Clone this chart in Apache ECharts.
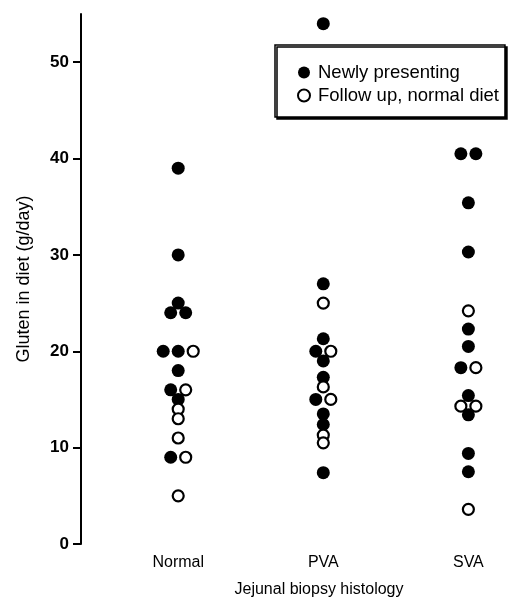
<!DOCTYPE html>
<html>
<head>
<meta charset="utf-8">
<script src="https://cdn.jsdelivr.net/npm/echarts@6/dist/echarts.min.js"></script>
<style>
  html, body { margin: 0; background: #ffffff; }
  #chart { width: 509px; height: 600px; }
</style>
</head>
<body>
<div id="chart"></div>
<script>
// categories on the x axis
const categories = ['Normal', 'PVA', 'SVA'];
const yTicks = [0, 10, 20, 30, 40, 50];

// newly presenting (filled dots), g/day
const newNormal = [39, 30, 25, 24, 24, 20, 20, 18, 16, 15, 9];
const newPVA = [54, 27, 21.3, 20, 19, 17.3, 15, 13.5, 12.4, 7.4];
const newSVA = [40.5, 40.5, 35.4, 30.3, 22.3, 20.5, 18.3, 15.4, 13.4, 9.4, 7.5];

// follow up, normal diet (open dots), g/day
const fuNormal = [20, 16, 14, 13, 11, 9, 5];
const fuPVA = [25, 20, 16.3, 15, 11.3, 10.5];
const fuSVA = [24.2, 18.3, 14.3, 14.3, 3.6];

const newData = [newNormal, newPVA, newSVA];
const fuData = [fuNormal, fuPVA, fuSVA];

// dots with the same value in a column are put side by side
const DODGE = 15;
function buildPoints() {
  const outNew = [], outFu = [];
  categories.forEach((c, ci) => {
    const groups = {};
    newData[ci].forEach(v => {
      const k = v.toFixed(1);
      (groups[k] = groups[k] || []).push({ v: v, out: outNew });
    });
    fuData[ci].forEach(v => {
      const k = v.toFixed(1);
      (groups[k] = groups[k] || []).push({ v: v, out: outFu });
    });
    Object.keys(groups).forEach(k => {
      const g = groups[k];
      g.forEach((p, i) => {
        const dx = (i - (g.length - 1) / 2) * DODGE;
        p.out.push({ value: [ci, p.v], symbolOffset: [dx, 0] });
      });
    });
  });
  return [outNew, outFu];
}
const [newPoints, fuPoints] = buildPoints();

const chart = echarts.init(document.getElementById('chart'));
const font = 'Liberation Sans, Arial, Helvetica, sans-serif';

chart.setOption({
  animation: false,
  backgroundColor: '#ffffff',
  textStyle: { fontFamily: font, color: '#000' },
  grid: { left: 81, right: 0, top: 14, bottom: 56 },
  legend: {
    orient: 'vertical',
    left: 275,
    top: 45,
    padding: [18, 6, 12, 22],
    itemGap: 4,
    itemWidth: 12,
    itemHeight: 12,
    backgroundColor: '#fff',
    borderColor: '#000',
    borderWidth: 1.5,
    shadowColor: '#000',
    shadowBlur: 0,
    shadowOffsetX: 2,
    shadowOffsetY: 2,
    textStyle: { fontSize: 18.5, color: '#000', fontFamily: font, padding: [0, 0, 0, 3] },
    data: ['Newly presenting', 'Follow up, normal diet']
  },
  xAxis: {
    type: 'value',
    min: -0.67,
    max: 2.28,
    axisLine: { show: false },
    axisTick: { show: false },
    splitLine: { show: false },
    axisLabel: {
      customValues: [0, 1, 2],
      formatter: v => categories[Math.round(v)],
      fontSize: 16,
      color: '#000',
      margin: 11
    }
  },
  yAxis: {
    type: 'value',
    min: 0,
    max: 55,
    name: 'Gluten in diet (g/day)',
    nameLocation: 'middle',
    nameGap: 48,
    nameTextStyle: { fontSize: 18, color: '#000' },
    axisLine: { show: true, onZero: false, lineStyle: { color: '#000', width: 2 } },
    axisTick: { show: true, inside: false, length: 8, customValues: yTicks, lineStyle: { color: '#000', width: 2 } },
    axisLabel: { customValues: yTicks, fontSize: 17, fontWeight: 'bold', color: '#000', margin: 12 },
    splitLine: { show: false }
  },
  graphic: [{
    type: 'text',
    x: 319,
    y: 590,
    style: {
      text: 'Jejunal biopsy histology',
      textAlign: 'center',
      textVerticalAlign: 'middle',
      font: '16px ' + font,
      fill: '#000'
    }
  }],
  series: [
    {
      name: 'Newly presenting',
      type: 'scatter',
      symbol: 'circle',
      symbolSize: 13,
      itemStyle: { color: '#000', opacity: 1 },
      data: newPoints
    },
    {
      name: 'Follow up, normal diet',
      type: 'scatter',
      symbol: 'circle',
      symbolSize: 11,
      itemStyle: { color: '#fff', borderColor: '#000', borderWidth: 2.2, opacity: 1 },
      data: fuPoints
    }
  ]
});
</script>
</body>
</html>
